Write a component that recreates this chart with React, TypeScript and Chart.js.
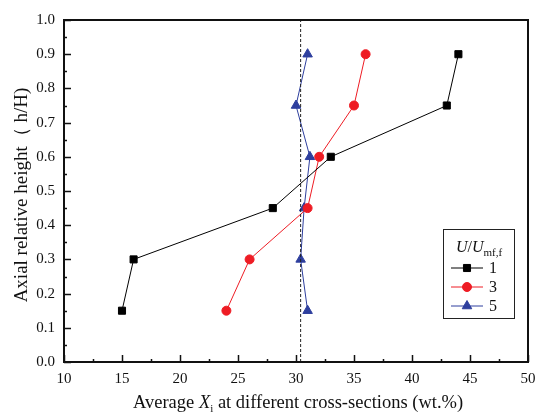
import React, { useEffect, useRef } from "react";
import { Chart, registerables } from "chart.js";

Chart.register(...registerables);

const heights = [0.15, 0.3, 0.45, 0.6, 0.75, 0.9];
const series1 = [15, 16, 28, 33, 43, 44];
const series3 = [24, 26, 31, 32, 35, 36];
const series5 = [31, 30.4, 30.7, 31.2, 30, 31];
const seriesLabels = ["1", "3", "5"];
const refLineX = 30.4;
const xMin = 10, xMax = 50, xStep = 5;
const yMin = 0, yMax = 1, yStep = 0.1;

const SERIF = '"Liberation Serif", "DejaVu Serif", serif';

const toPts = (xs: number[]) => xs.map((x, i) => ({ x, y: heights[i] }));

function marker(ctx: CanvasRenderingContext2D, style: string, r: number, x: number, y: number) {
  ctx.beginPath();
  if (style === "rect") {
    const s = Math.SQRT1_2 * r;
    ctx.rect(x - s, y - s, 2 * s, 2 * s);
  } else if (style === "circle") {
    ctx.arc(x, y, r, 0, Math.PI * 2);
  } else {
    const h = r * 1.5;
    const w = r * Math.sqrt(3);
    ctx.moveTo(x, y - r);
    ctx.lineTo(x + w / 2, y - r + h);
    ctx.lineTo(x - w / 2, y - r + h);
    ctx.closePath();
  }
  ctx.fill();
  ctx.stroke();
}

const customPlugin = {
  id: "custom",
  afterDatasetsDraw(chart: any) {
    const { ctx, chartArea: a, scales } = chart;
    const xs = scales.x, ys = scales.y;
    ctx.save();
    // dashed reference line
    const rx = xs.getPixelForValue(refLineX);
    ctx.strokeStyle = "#222";
    ctx.lineWidth = 1;
    ctx.setLineDash([3, 2]);
    ctx.beginPath();
    ctx.moveTo(rx, ys.getPixelForValue(yMin));
    ctx.lineTo(rx, ys.getPixelForValue(yMax));
    ctx.stroke();
    ctx.setLineDash([]);
    // frame
    ctx.strokeStyle = "#111";
    ctx.lineWidth = 2;
    ctx.strokeRect(a.left, a.top, a.right - a.left, a.bottom - a.top);
    // ticks
    ctx.lineWidth = 1.5;
    ctx.beginPath();
    for (let i = 0; i <= ((xMax - xMin) / xStep) * 2; i++) {
      const v = xMin + (i * xStep) / 2;
      const px = Math.round(xs.getPixelForValue(v)) + 0.5;
      const major = i % 2 === 0;
      ctx.moveTo(px, a.bottom);
      ctx.lineTo(px, a.bottom - (major ? 7 : 3));
    }
    for (let i = 0; i <= 20; i++) {
      const v = yMin + (i * yStep) / 2;
      const py = Math.round(ys.getPixelForValue(v)) + 0.5;
      const major = i % 2 === 0;
      ctx.moveTo(a.left, py);
      ctx.lineTo(a.left + (major ? 7 : 3), py);
    }
    ctx.stroke();

    // axis titles
    ctx.fillStyle = "#111";
    ctx.textBaseline = "alphabetic";
    const parts: [string, string, number, number][] = [
      ["Average ", "18.5px " + SERIF, 0, 0],
      ["X", "italic 18.5px " + SERIF, 0, 0],
      ["i", "11px " + SERIF, 0, 4],
      [" at different cross-sections (wt.%)", "18.5px " + SERIF, 0, 0],
    ];
    parts.forEach((p) => {
      ctx.font = p[1];
      p[2] = ctx.measureText(p[0]).width;
    });
    let cx = 133;
    const ty = 408;
    parts.forEach((p) => {
      ctx.font = p[1];
      ctx.textAlign = "left";
      ctx.fillText(p[0], cx, ty + p[3]);
      cx += p[2];
    });
    // y title
    ctx.save();
    ctx.translate(27, 195);
    ctx.rotate(-Math.PI / 2);
    ctx.font = "19px " + SERIF;
    ctx.textAlign = "center";
    ctx.fillText("Axial relative height\uFF08 h/H)", 0, 0);
    ctx.restore();

    // legend
    const lx = 443, ly = 229, lw = 71, lh = 89;
    ctx.lineWidth = 1;
    ctx.strokeStyle = "#222";
    ctx.strokeRect(lx + 0.5, ly + 0.5, lw, lh);
    ctx.textAlign = "left";
    let tx = 456;
    ctx.font = "italic 16px " + SERIF;
    ctx.fillText("U", tx, 252);
    tx += ctx.measureText("U").width;
    ctx.font = "16px " + SERIF;
    ctx.fillText("/", tx, 252);
    tx += ctx.measureText("/").width;
    ctx.font = "italic 16px " + SERIF;
    ctx.fillText("U", tx, 252);
    tx += ctx.measureText("U").width;
    ctx.font = "11px " + SERIF;
    ctx.fillText("mf,f", tx, 256);

    chart.data.datasets.forEach((ds: any, i: number) => {
      const yy = 268 + i * 19;
      ctx.strokeStyle = ds.borderColor;
      ctx.lineWidth = 1;
      ctx.beginPath();
      ctx.moveTo(451, yy);
      ctx.lineTo(483, yy);
      ctx.stroke();
      ctx.fillStyle = ds.pointBackgroundColor;
      ctx.strokeStyle = ds.pointBorderColor;
      marker(ctx, ds.pointStyle, ds.pointRadius, 467, yy);
      ctx.fillStyle = "#111";
      ctx.font = "16px " + SERIF;
      ctx.textBaseline = "middle";
      ctx.fillText(ds.label, 489, yy + 1);
      ctx.textBaseline = "alphabetic";
    });
    ctx.restore();
  },
};

export default function App() {
  const ref = useRef<HTMLCanvasElement>(null);
  useEffect(() => {
    document.body.style.margin = "0";
    const canvas = ref.current!;
    const mk = (label: string, data: number[], color: string, style: string, r: number) => ({
      label,
      data: toPts(data),
      borderColor: color,
      backgroundColor: color,
      pointBackgroundColor: color,
      pointBorderColor: color,
      pointStyle: style,
      pointRadius: r,
      borderWidth: 1,
      pointBorderWidth: 1,
      showLine: true,
      tension: 0,
    });
    const chart = new Chart(canvas, {
      type: "scatter",
      data: {
        datasets: [
          mk(seriesLabels[0], series1, "#000000", "rect", 5),
          mk(seriesLabels[1], series3, "#ee1c24", "circle", 4.5),
          mk(seriesLabels[2], series5, "#2e3f9e", "triangle", 5.5),
        ] as any,
      },
      options: {
        animation: false,
        responsive: false,
        devicePixelRatio: 1,
        layout: { padding: { left: 0, right: 8, top: 20, bottom: 0 } },
        plugins: { legend: { display: false }, tooltip: { enabled: false } },
        scales: {
          x: {
            type: "linear",
            min: xMin,
            max: xMax,
            border: { display: false },
            grid: { display: false, drawTicks: false },
            ticks: {
              stepSize: xStep,
              padding: 8,
              color: "#111",
              font: { family: SERIF, size: 15 },
            },
            afterFit: (s: any) => { s.height = 53; s.paddingLeft = 0; s.paddingRight = 0; },
          },
          y: {
            type: "linear",
            min: yMin,
            max: yMax,
            border: { display: false },
            grid: { display: false, drawTicks: false },
            ticks: {
              stepSize: yStep,
              padding: 9,
              color: "#111",
              font: { family: SERIF, size: 15 },
              callback: (v: any) => Number(v).toFixed(1),
            },
            afterFit: (s: any) => { s.width = 64; s.paddingTop = 0; s.paddingBottom = 0; },
          },
        },
      },
      plugins: [customPlugin],
    });
    return () => chart.destroy();
  }, []);
  return <canvas ref={ref} width={536} height={415} style={{ display: "block" }} />;
}
